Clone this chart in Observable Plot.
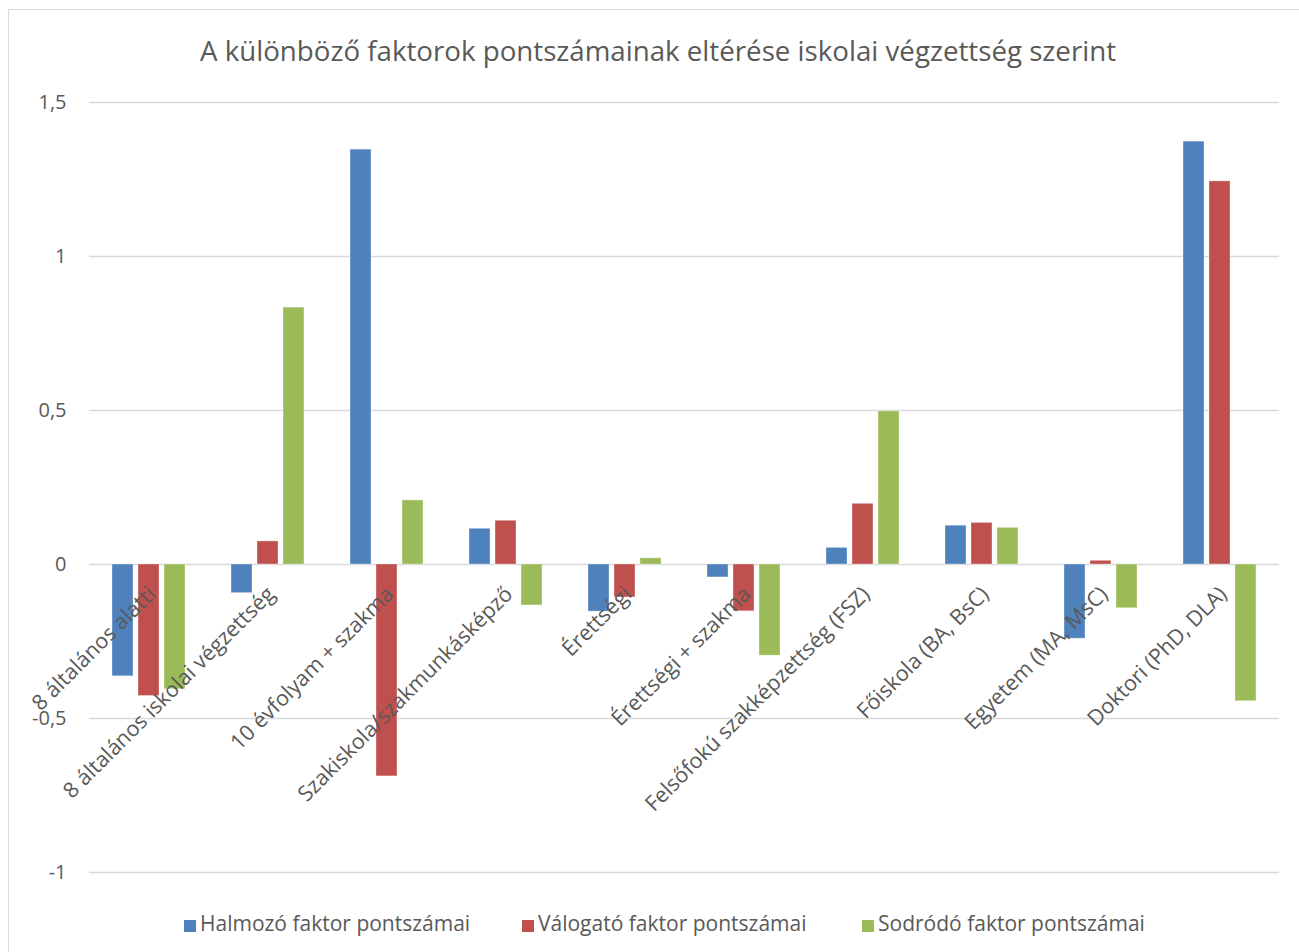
<!DOCTYPE html>
<html>
<head>
<meta charset="utf-8">
<script src="https://cdn.jsdelivr.net/npm/d3@7"></script>
<script src="https://cdn.jsdelivr.net/npm/@observablehq/plot@0.6"></script>
<style>
  html, body { margin: 0; padding: 0; background: #fff; }
  #wrap { position: relative; width: 1299px; height: 952px; overflow: hidden; font-family: "Open Sans", sans-serif; color: #595959; }
  #frame { position: absolute; left: 8px; top: 9px; width: 1400px; height: 1200px; border-left: 1.5px solid #d9d9d9; border-top: 1.5px solid #d9d9d9; }
  #title { position: absolute; left: 0; top: 0; width: 1316px; height: 80px; text-align: center; font-size: 27.7px; line-height: 100px; white-space: nowrap; }
  #chart { position: absolute; left: 0; top: 80px; }
  .leg { position: absolute; top: 909px; font-size: 21px; line-height: 28px; white-space: nowrap; }
  .leg span.sw { display: inline-block; width: 12px; height: 12px; margin-right: 4px; vertical-align: -1px; }
</style>
</head>
<body>
<div id="wrap">
  <div id="frame"></div>
  <div id="title"></div>
  <div id="chart"></div>
  <div id="legend"></div>
</div>
<script>
const titleText = "A különböző faktorok pontszámainak eltérése iskolai végzettség szerint";

const categories = [
  "8 általános alatti",
  "8 általános iskolai végzettség",
  "10 évfolyam + szakma",
  "Szakiskola/szakmunkásképző",
  "Érettségi",
  "Érettségi + szakma",
  "Felsőfokú szakképzettség (FSZ)",
  "Főiskola (BA, BsC)",
  "Egyetem (MA, MsC)",
  "Doktori (PhD, DLA)"
];

const seriesNames = [
  "Halmozó faktor pontszámai",
  "Válogató faktor pontszámai",
  "Sodródó faktor pontszámai"
];

const halmozo  = [-0.363, -0.093, 1.347,  0.116, -0.153, -0.042, 0.054, 0.126, -0.241,  1.373];
const valogato = [-0.427,  0.075, -0.688, 0.142, -0.107, -0.152, 0.197, 0.135,  0.012,  1.244];
const sodrodo  = [-0.405,  0.834, 0.208, -0.133,  0.020, -0.296, 0.497, 0.119, -0.142, -0.444];

const yTicks = [-1, -0.5, 0, 0.5, 1, 1.5];
const colors = ["#4F81BD", "#C0504D", "#9BBB59"];

const seriesValues = [halmozo, valogato, sodrodo];
const data = [];
categories.forEach((c, i) => {
  seriesNames.forEach((s, j) => data.push({cat: c, series: s, value: seriesValues[j][i]}));
});

document.getElementById("title").textContent = titleText;

const chart = Plot.plot({
  width: 1299,
  height: 815,
  marginLeft: 88,
  marginRight: 19,
  marginTop: 22,
  marginBottom: 23,
  style: {fontFamily: "'Open Sans', sans-serif", background: "transparent", overflow: "visible"},
  fx: {domain: categories, paddingInner: 0, paddingOuter: 0, axis: null, label: null},
  x: {domain: seriesNames, paddingInner: 0.2, paddingOuter: 0.865, axis: null},
  y: {domain: [-1, 1.5], axis: null},
  color: {domain: seriesNames, range: colors},
  marks: [
    Plot.gridY(yTicks, {stroke: "#d9d9d9", strokeOpacity: 1, strokeWidth: 1.5}),
    Plot.axisY(yTicks, {
      tickSize: 0, tickPadding: 23, fontSize: 20, fill: "#595959",
      tickFormat: d => String(d).replace(".", ","), label: null
    }),
    Plot.barY(data, {fx: "cat", x: "series", y: "value", fill: "series", stroke: "#ffffff", strokeOpacity: 0.35, strokeWidth: 1}),
    Plot.text(categories, {
      fx: d => d, y: d => 0, text: d => d,
      rotate: -45, textAnchor: "end", lineAnchor: "bottom",
      dx: 8, dy: 31, fontSize: 21.5, fill: "#595959"
    })
  ]
});
document.getElementById("chart").appendChild(chart);

const legendLefts = [184, 522, 862];
const legend = document.getElementById("legend");
seriesNames.forEach((s, i) => {
  const d = document.createElement("div");
  d.className = "leg";
  d.style.left = legendLefts[i] + "px";
  const sw = document.createElement("span");
  sw.className = "sw";
  sw.style.background = colors[i];
  d.appendChild(sw);
  d.appendChild(document.createTextNode(s));
  legend.appendChild(d);
});
</script>
</body>
</html>
